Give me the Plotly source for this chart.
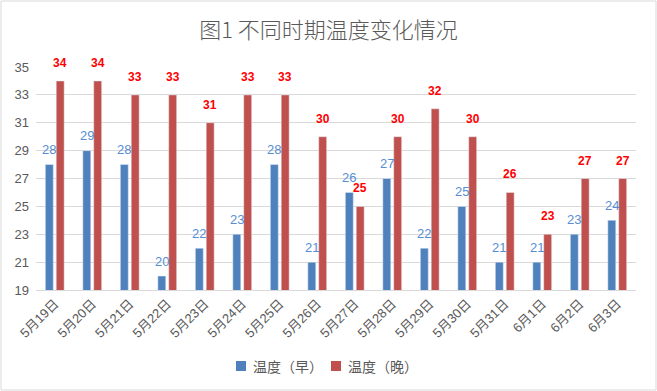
import plotly.graph_objects as go

categories = ["5月19日", "5月20日", "5月21日", "5月22日", "5月23日", "5月24日", "5月25日", "5月26日",
              "5月27日", "5月28日", "5月29日", "5月30日", "5月31日", "6月1日", "6月2日", "6月3日"]
morning = [28, 29, 28, 20, 22, 23, 28, 21, 26, 27, 22, 25, 21, 21, 23, 24]
evening = [34, 34, 33, 33, 31, 33, 33, 30, 25, 30, 32, 30, 26, 23, 27, 27]
series_names = ["温度（早）", "温度（晚）"]
series_colors = ["#4F81BD", "#C0504D"]

FONT = "Liberation Sans, Noto Sans CJK SC"
fig = go.Figure()
fig.add_trace(go.Bar(x=categories, y=morning, name=series_names[0], marker_color=series_colors[0],
                     showlegend=False))
fig.add_trace(go.Bar(x=categories, y=evening, name=series_names[1], marker_color=series_colors[1],
                     showlegend=False))

W, H = 657, 391
L, R, T, B = 36, 21, 67, 101
pw, ph = W - L - R, H - T - B

def px(xp):
    return (xp - L) / pw

def py(yp):
    return (T + ph - yp) / ph

bargap, groupgap = 0.42, 0.27
half = (1 - bargap) / 4
for i, c in enumerate(categories):
    fig.add_annotation(x=i - half, y=morning[i], xref="x", yref="y", text=str(morning[i]),
                       showarrow=False, yanchor="middle", yshift=15,
                       font=dict(color="#558ED5", size=13, family=FONT))
    fig.add_annotation(x=i + half, y=evening[i], xref="x", yref="y", text="<b>%d</b>" % evening[i],
                       showarrow=False, yanchor="middle", yshift=18,
                       font=dict(color="#FF0000", size=12, family=FONT))

# legend (drawn manually for Excel-like spacing)
legend_x = [236, 331]
for name, col, lx in zip(series_names, series_colors, legend_x):
    fig.add_shape(type="rect", xref="paper", yref="paper", x0=px(lx), x1=px(lx + 10),
                  y0=py(371), y1=py(361), fillcolor=col, line=dict(width=0))
    fig.add_annotation(xref="paper", yref="paper", x=px(lx + 15), y=py(366), text=name,
                       showarrow=False, xanchor="left", yanchor="middle",
                       font=dict(size=14, color="#595959", family="Noto Sans CJK SC"))

fig.update_layout(
    width=W, height=H,
    margin=dict(l=L, r=R, t=T, b=B, autoexpand=False),
    paper_bgcolor="white", plot_bgcolor="white",
    font=dict(family=FONT, color="#595959", size=13),
    title=dict(text="图1 不同时期温度变化情况", x=0.5, xanchor="center", y=1 - 30 / H, yanchor="middle",
               font=dict(size=22, color="#595959", family="Noto Sans CJK SC", weight=300)),
    barmode="group", bargap=bargap, bargroupgap=groupgap,
    showlegend=False,
)
fig.update_yaxes(range=[19, 35], tickvals=list(range(19, 36, 2)), showgrid=True, gridcolor="#D9D9D9",
                 zeroline=False, showline=False, ticks="", automargin=False, ticklabelstandoff=6,
                 tickfont=dict(size=13, color="#595959"))
fig.update_xaxes(tickangle=-45, showline=True, linecolor="#D9D9D9", showgrid=False, ticks="",
                 automargin=False, type="category",
                 tickfont=dict(size=13, color="#595959"))
fig.add_shape(type="rect", xref="paper", yref="paper",
              x0=px(1), x1=px(W - 1), y0=py(H - 1), y1=py(1),
              line=dict(color="#D9D9D9", width=1), fillcolor="rgba(0,0,0,0)", layer="below")
fig.write_html("out.html", config={"displayModeBar": False},
               post_script="document.body.style.margin='0';document.body.style.overflow='hidden';")
